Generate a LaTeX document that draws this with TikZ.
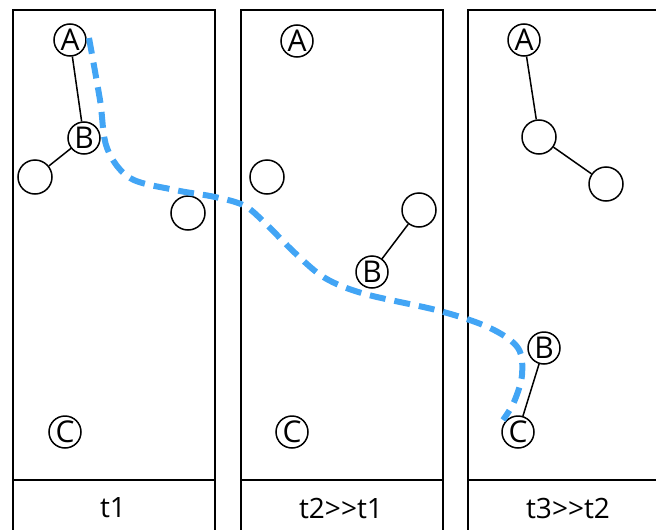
\documentclass[tikz,border=0pt]{standalone}
\usepackage{fontspec}
\setmainfont{Open Sans}
\usepackage{tikz}
\usetikzlibrary{positioning,calc}
\definecolor{pathblue}{RGB}{66,165,245}
\tikzset{
  pnl/.style={rectangle,draw,line width=1.8pt,minimum width=202,minimum height=560,anchor=north west,inner sep=0},
  atm/.style={circle,draw,line width=1.5pt,minimum size=32,inner sep=0,font=\fontsize{30}{30}\selectfont},
  bnd/.style={line width=1.5pt},
  lbl/.style={font=\fontsize{28}{28}\selectfont},
  trj/.style={pathblue,line width=6pt,dash pattern=on 16pt off 9pt},
}

\begin{document}
\begin{tikzpicture}[x=1pt,y=-1pt]
  \useasboundingbox (0,0) rectangle (656,530);
  \clip (0,0) rectangle (656,530);
  % panels
  \node[pnl] (p1) at (12,9) {};
  \node[pnl] (p2) at (240,9) {};
  \node[pnl,minimum width=230] (p3) at (467,9) {};
  \draw[bnd,line width=1.8pt] (12,480) -- (214,480) (240,480) -- (442,480) (467,480) -- (697,480);
  \node[lbl] (l1) at (113,508) {t1};
  \node[lbl] (l2) at (341,508) {t2{>}{>}t1};
  \node[lbl] (l3) at (568,508) {t3{>}{>}t2};
  % t1
  \node[atm] (a1) at (70,40) {A};
  \node[atm] (b1) at (84,138) {B};
  \node[atm,minimum size=34] (x1) at (35,177) {};
  \node[atm,minimum size=34] (y1) at (188,213) {};
  \node[atm] (c1) at (65,432) {C};
  \draw[bnd] (a1) -- (b1) (b1) -- (x1);
  % t2
  \node[atm] (a2) at (297,41) {A};
  \node[atm,minimum size=34] (x2) at (267,177) {};
  \node[atm,minimum size=34] (y2) at (419,210) {};
  \node[atm] (b2) at (372,272) {B};
  \node[atm] (c2) at (292,432) {C};
  \draw[bnd] (b2) -- (y2);
  % t3
  \node[atm] (a3) at (524,40) {A};
  \node[atm,minimum size=34] (x3) at (539,137) {};
  \node[atm,minimum size=34] (y3) at (606,184) {};
  \node[atm] (b3) at (544,348) {B};
  \node[atm] (c3) at (518,432) {C};
  \draw[bnd] (a3) -- (x3) (x3) -- (y3) (b3) -- (c3);
  % trajectory
  \coordinate (s) at (89,38);
  \coordinate (e) at (503,420);
  \draw[trj] plot[smooth,tension=0.55] coordinates {(s) (100,100) (107,148) (130,178) (175,190) (215,197) (245,206) (268,226) (295,253) (325,278) (365,294) (440,311) (490,328) (518,348) (522,375) (514,402) (e)};
\end{tikzpicture}
\end{document}
